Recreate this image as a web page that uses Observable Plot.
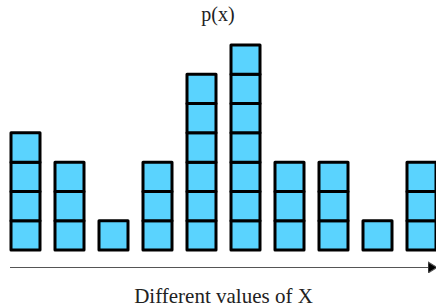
<!DOCTYPE html>
<html>
<head>
<meta charset="utf-8">
<script src="https://cdn.jsdelivr.net/npm/d3@7"></script>
<script src="https://cdn.jsdelivr.net/npm/@observablehq/plot@0.6"></script>
<style>
  html, body { margin: 0; padding: 0; background: #fff; }
  #title { width: 436px; height: 28px; line-height: 28px; text-align: center;
           font-family: "Liberation Serif", "DejaVu Serif", serif; font-size: 20px; color: #222; }
  svg { display: block; }
</style>
</head>
<body>
<div id="title">p(x)</div>
<div id="chart"></div>
<script>
// Data
const categories = ["x1","x2","x3","x4","x5","x6","x7","x8","x9","x10"];
const counts = [4, 3, 1, 3, 6, 7, 3, 3, 1, 3];
const xLabel = "Different values of X";
const axisLevel = -0.58; // arrow baseline, in count units

// one unit square per count
const squares = categories.flatMap((c, i) => d3.range(counts[i]).map(k => ({cat: c, k})));

const filledArrow = (color, context) => {
  const m = d3.create("svg:marker")
    .attr("viewBox", "0 -6 9 12")
    .attr("markerWidth", 9)
    .attr("markerHeight", 12)
    .attr("markerUnits", "userSpaceOnUse")
    .attr("refX", 8)
    .attr("refY", 0)
    .attr("orient", "auto");
  m.append("path").attr("d", "M0,-5.5L9,0L0,5.5Z").attr("fill", "#000");
  return m.node();
};

const chart = Plot.plot({
  width: 436,
  height: 280,
  marginTop: 17,
  marginBottom: 58,
  marginLeft: 10,
  marginRight: 0,
  x: {type: "band", domain: categories, paddingInner: 0.342, paddingOuter: 0,
      tickSize: 0, tickFormat: () => "", label: xLabel, labelAnchor: "center", labelOffset: 52},
  y: {domain: [0, 7], axis: null},
  style: {fontFamily: "Liberation Serif, DejaVu Serif, serif", fontSize: "21px", color: "#222", background: "#fff"},
  marks: [
    Plot.ruleY([axisLevel], {stroke: "#555", strokeWidth: 1.2, markerEnd: filledArrow}),
    Plot.barY(squares, {x: "cat", y1: "k", y2: d => d.k + 1, fill: "#5ad3fe",
      stroke: "#000", strokeWidth: 3, strokeLinejoin: "round"})
  ]
});
document.getElementById("chart").append(chart);
</script>
</body>
</html>
